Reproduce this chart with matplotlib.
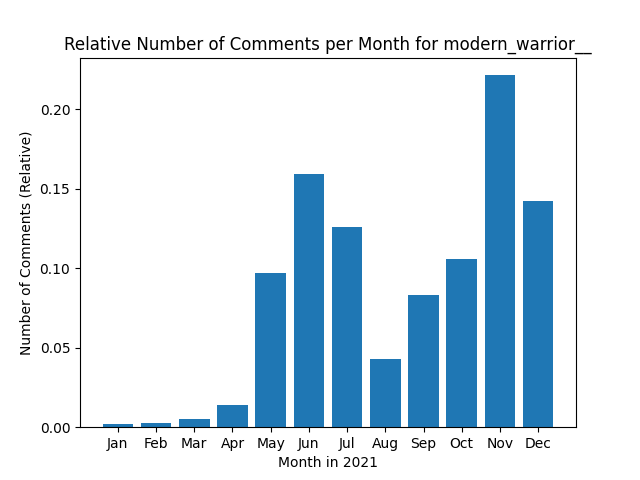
import matplotlib
matplotlib.use("Agg")
import matplotlib.pyplot as plt

months = ["Jan", "Feb", "Mar", "Apr", "May", "Jun", "Jul", "Aug", "Sep", "Oct", "Nov", "Dec"]
values = [0.0019, 0.0025, 0.0050, 0.0138, 0.0969, 0.1590, 0.1258, 0.0428, 0.0830, 0.1057, 0.2214, 0.1421]

fig, ax = plt.subplots(figsize=(6.4, 4.8), dpi=100)
ax.bar(months, values, color="#1f77b4")
ax.set_title("Relative Number of Comments per Month for modern_warrior__")
ax.set_xlabel("Month in 2021")
ax.set_ylabel("Number of Comments (Relative)")
fig.savefig("out.png")
